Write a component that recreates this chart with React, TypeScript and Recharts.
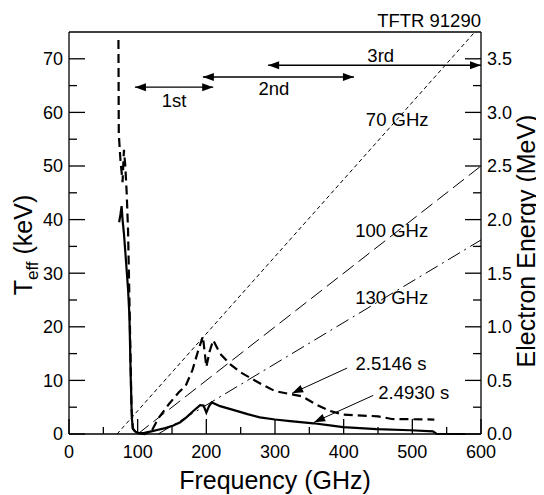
import React from "react";
import {LineChart, Line, XAxis, YAxis, ReferenceLine, ReferenceDot} from "recharts";

// 2.4930 s (solid)
const solidFreq = [73, 75, 76.6, 78, 80, 82, 86, 88, 90, 91.5, 93, 97, 103, 110, 120, 130, 140, 152, 162, 171, 181, 191, 196, 200, 204, 208, 220, 239, 260, 278, 300, 322, 356, 380, 399, 448, 497, 530, 535, 577]
const solidTeff = [39.5, 41, 42.5, 40, 37.4, 34, 27, 22, 10, 3, 1, 0.4, 0.1, 0.2, 0.5, 0.8, 1.1, 1.6, 2.2, 3.1, 4.3, 5.4, 5.3, 4.0, 5.2, 5.9, 5.2, 4.5, 3.7, 3.1, 2.7, 2.4, 2.0, 1.6, 1.3, 0.9, 0.7, 0.5, 0.05, 0]

// 2.5146 s (dashed)
const dashFreq = [72, 72.5, 75, 78, 80, 82, 84, 86, 88, 89.5, 91, 93, 97, 110, 120, 130, 145, 160, 170, 180, 188, 195, 200, 205, 210, 220, 235, 250, 280, 300, 320, 340, 360, 380, 400, 450, 470, 532]
const dashTeff = [73.5, 56, 51, 47, 53, 50, 45, 38, 25, 15, 5, 1, 0.3, 0, 0.5, 2.9, 5.5, 7.8, 9, 12, 15.5, 18.2, 12.5, 15.5, 17.5, 15, 13, 11.5, 9.3, 8, 7.5, 7, 5.5, 4.3, 3.6, 3.3, 2.8, 2.7]

// resonance lines
const line70Freq = [70, 591]
const line70Teff = [0, 75]
const line100Freq = [100, 600]
const line100Teff = [0, 50]
const line130Freq = [130, 600]
const line130Teff = [0, 36.2]

const xTicks = [0, 50, 100, 150, 200, 250, 300, 350, 400, 450, 500, 550, 600]
const leftTicks = [0, 5, 10, 15, 20, 25, 30, 35, 40, 45, 50, 55, 60, 65, 70]
const rightTicks = [0, 0.25, 0.5, 0.75, 1, 1.25, 1.5, 1.75, 2, 2.25, 2.5, 2.75, 3, 3.25, 3.5]

const toData = (f: number[], t: number[]) => f.map((v, i) => ({f: v, t: t[i]}))

const FONT = "'Liberation Sans', Arial, Helvetica, sans-serif"
const AX = 1.3

const LeftTick = (p: any) => {
    const v = p.payload.value
    const major = v % 10 === 0
    return <g>
        <line x1={p.x} y1={p.y} x2={p.x + (major ? 16 : 8)} y2={p.y} stroke="#000" strokeWidth={AX}/>
        {major && <text x={p.x - 6} y={p.y} dy="0.36em" textAnchor="end" fontSize={18} fill="#000">{v}</text>}
    </g>
}

const RightTick = (p: any) => {
    const v = p.payload.value
    const major = Math.abs(v * 2 - Math.round(v * 2)) < 1e-6
    return <g>
        <line x1={p.x} y1={p.y} x2={p.x - (major ? 16 : 8)} y2={p.y} stroke="#000" strokeWidth={AX}/>
        {major && <text x={p.x + 6} y={p.y} dy="0.36em" textAnchor="start" fontSize={18} fill="#000">{v.toFixed(1)}</text>}
    </g>
}

const BottomTick = (p: any) => {
    const v = p.payload.value
    const major = v % 100 === 0
    return <g>
        <line x1={p.x} y1={p.y} x2={p.x} y2={p.y - (major ? 15 : 7)} stroke="#000" strokeWidth={AX}/>
        {major && <text x={p.x} y={p.y + 24} textAnchor="middle" fontSize={18} fill="#000">{v}</text>}
    </g>
}

const TopTick = (p: any) => {
    const major = p.payload.value % 100 === 0
    return <line x1={p.x} y1={p.y} x2={p.x} y2={p.y + (major ? 15 : 7)} stroke="#000" strokeWidth={AX}/>
}

const head = (x1: number, y1: number, x2: number, y2: number) => {
    const len = 11, hw = 4
    const d = Math.hypot(x2 - x1, y2 - y1) || 1
    const ux = (x2 - x1) / d, uy = (y2 - y1) / d
    const bx = x2 - ux * len, by = y2 - uy * len
    return `${x2},${y2} ${bx - uy * hw},${by + ux * hw} ${bx + uy * hw},${by - ux * hw}`
}

const DoubleArrow = (p: any) => {
    const {x1, y1, x2, y2} = p
    if (x1 === undefined) return null
    return <g>
        <line x1={x1} y1={y1} x2={x2} y2={y2} stroke="#000" strokeWidth={1.3}/>
        <polygon points={head(x1, y1, x2, y2)} fill="#000"/>
        <polygon points={head(x2, y2, x1, y1)} fill="#000"/>
    </g>
}

const SingleArrow = (p: any) => {
    const {x1, y1, x2, y2} = p
    if (x1 === undefined) return null
    return <g>
        <line x1={x1} y1={y1} x2={x2} y2={y2} stroke="#000" strokeWidth={1}/>
        <polygon points={head(x1, y1, x2, y2)} fill="#000"/>
    </g>
}

const LeftTitle = (p: any) => {
    const vb = p.viewBox
    const cx = vb.x + 24, cy = vb.y + vb.height / 2 + 12
    return <text transform={`translate(${cx},${cy}) rotate(-90)`} textAnchor="middle" fontSize={25} fill="#000">
        T<tspan fontSize={17} dy={6}>eff</tspan><tspan dy={-6}> (keV)</tspan>
    </text>
}

const RightTitle = (p: any) => {
    const vb = p.viewBox
    const cx = vb.x + 54, cy = vb.y + vb.height / 2 + 8
    return <text transform={`translate(${cx},${cy}) rotate(-90)`} textAnchor="middle" fontSize={25} fill="#000">
        Electron Energy (MeV)
    </text>
}

const BottomTitle = (p: any) => {
    const vb = p.viewBox
    return <text x={vb.x + vb.width / 2} y={vb.y + 55} textAnchor="middle" fontSize={25} fill="#000">Frequency (GHz)</text>
}

const TopTitle = (p: any) => {
    const vb = p.viewBox
    return <text x={vb.x + vb.width} y={vb.y - 4} textAnchor="end" fontSize={18.5} fill="#000">TFTR 91290</text>
}

const notes = [
    {x: 478, y: 58.6, text: "70 GHz"},
    {x: 470, y: 38, text: "100 GHz"},
    {x: 470, y: 25.5, text: "130 GHz"},
    {x: 153, y: 62.3, text: "1st"},
    {x: 298.5, y: 64.5, text: "2nd"},
    {x: 454, y: 70.7, text: "3rd"},
    {x: 469, y: 13.2, text: "2.5146 s"},
    {x: 502, y: 7.8, text: "2.4930 s"},
]

export default function App() {
    return <div style={{fontFamily: FONT}}>
        <LineChart width={536} height={487} margin={{top: 23, right: 0, bottom: 0, left: 0}} style={{fontFamily: FONT}}>
            <XAxis type="number" dataKey="f" domain={[0, 600]} ticks={xTicks} interval={0} height={61}
                   tickSize={0} tickMargin={0} tickLine={false} tick={<BottomTick/>}
                   axisLine={{stroke: "#000", strokeWidth: AX}} label={(p: any) => <BottomTitle {...p}/>}/>
            <XAxis xAxisId="top" orientation="top" type="number" domain={[0, 600]} ticks={xTicks} interval={0}
                   height={1} tickSize={0} tickMargin={0} tickLine={false} tick={<TopTick/>}
                   axisLine={{stroke: "#000", strokeWidth: AX}} label={(p: any) => <TopTitle {...p}/>}/>
            <YAxis yAxisId="left" type="number" domain={[0, 75]} ticks={leftTicks} interval={0} width={61}
                   tickSize={0} tickMargin={0} tickLine={false} tick={<LeftTick/>}
                   axisLine={{stroke: "#000", strokeWidth: AX}} label={(p: any) => <LeftTitle {...p}/>}/>
            <YAxis yAxisId="right" orientation="right" type="number" domain={[0, 3.75]} ticks={rightTicks}
                   interval={0} width={63} allowDataOverflow
                   tickSize={0} tickMargin={0} tickLine={false} tick={<RightTick/>}
                   axisLine={{stroke: "#000", strokeWidth: AX}} label={(p: any) => <RightTitle {...p}/>}/>

            <Line yAxisId="left" data={toData(line70Freq, line70Teff)} dataKey="t" stroke="#000" strokeWidth={1}
                  strokeDasharray="4 3" dot={false} isAnimationActive={false}/>
            <Line yAxisId="left" data={toData(line100Freq, line100Teff)} dataKey="t" stroke="#000" strokeWidth={1}
                  strokeDasharray="14 6" dot={false} isAnimationActive={false}/>
            <Line yAxisId="left" data={toData(line130Freq, line130Teff)} dataKey="t" stroke="#000" strokeWidth={1}
                  strokeDasharray="14 5 2 5" dot={false} isAnimationActive={false}/>
            <Line yAxisId="left" data={toData(dashFreq, dashTeff)} dataKey="t" stroke="#000" strokeWidth={2.2}
                  strokeDasharray="9 5" dot={false} isAnimationActive={false}/>
            <Line yAxisId="left" data={toData(solidFreq, solidTeff)} dataKey="t" stroke="#000" strokeWidth={2.2}
                  dot={false} isAnimationActive={false}/>

            <ReferenceLine yAxisId="left" segment={[{x: 96, y: 64.7}, {x: 210, y: 64.7}]} shape={DoubleArrow}/>
            <ReferenceLine yAxisId="left" segment={[{x: 195, y: 66.6}, {x: 415, y: 66.6}]} shape={DoubleArrow}/>
            <ReferenceLine yAxisId="left" segment={[{x: 290, y: 68.8}, {x: 600, y: 68.8}]} shape={DoubleArrow}/>
            <ReferenceLine yAxisId="left" segment={[{x: 405, y: 12.3}, {x: 325, y: 7.6}]} shape={SingleArrow}/>
            <ReferenceLine yAxisId="left" segment={[{x: 443, y: 7.2}, {x: 357, y: 2.2}]} shape={SingleArrow}/>

            {notes.map(n => <ReferenceDot key={n.text} yAxisId="left" x={n.x} y={n.y} r={0} fill="none" stroke="none"
                                          label={{value: n.text, position: "center", fontSize: 18.5, fill: "#000"}}/>)}
        </LineChart>
    </div>
}
